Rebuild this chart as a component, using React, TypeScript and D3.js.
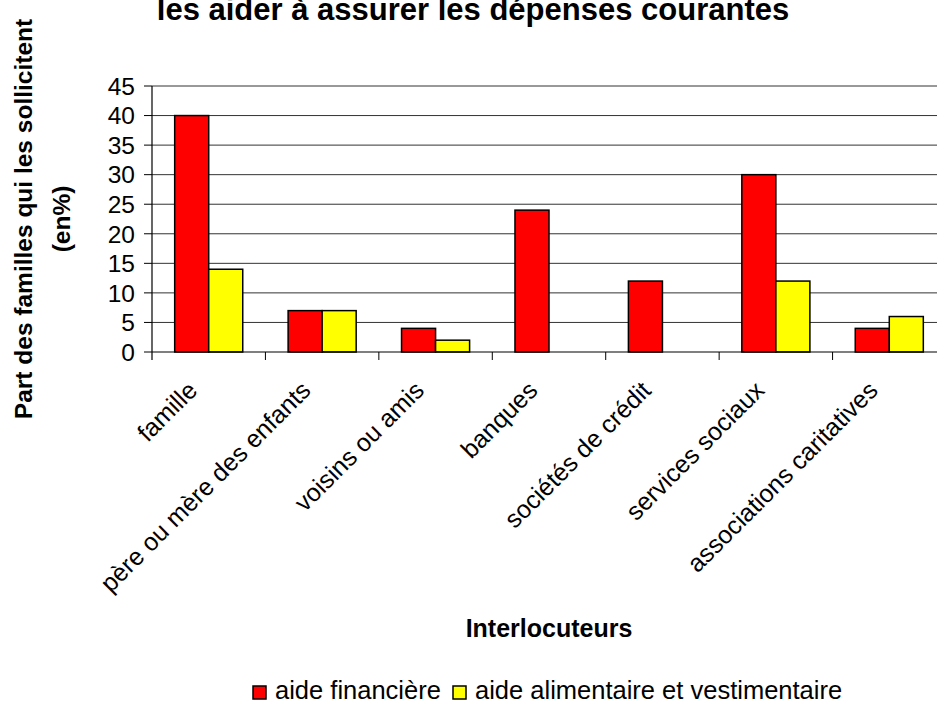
import React from "react";
import * as d3 from "d3";

const categories = [
  "famille",
  "père ou mère des enfants",
  "voisins ou amis",
  "banques",
  "sociétés de crédit",
  "services sociaux",
  "associations caritatives",
];
const aideFinanciere = [40, 7, 4, 24, 12, 30, 4];
const aideAlimentaire = [14, 7, 2, 0, 0, 12, 6];
const seriesNames = ["aide financière", "aide alimentaire et vestimentaire"];
const seriesColors = ["#ff0000", "#ffff00"];
const yTicks = [0, 5, 10, 15, 20, 25, 30, 35, 40, 45];

const width = 937;
const height = 704;
const plotLeft = 152;
const plotRight = 946;
const plotTop = 86;
const plotBottom = 352;
const font = "'Liberation Sans', Arial, sans-serif";

export default function App() {
  const x = d3.scaleBand<string>().domain(categories).range([plotLeft, plotRight]);
  const bw = x.bandwidth();
  const gap = bw * 0.2;
  const x1 = d3.scaleBand<number>().domain([0, 1]).range([gap, bw - gap]);
  const y = d3.scaleLinear().domain([0, 45]).range([plotBottom, plotTop]);

  const series = [aideFinanciere, aideAlimentaire];

  return (
    <svg
      width={width}
      height={height}
      style={{ position: "absolute", left: 0, top: 0, background: "#fff" }}
      fontFamily={font}
    >
      {/* title (its first line lies above the picture) */}
      <text x={473} y={20} textAnchor="middle" fontSize={31} fontWeight="bold">
        les aider à assurer les dépenses courantes
      </text>

      {/* gridlines */}
      {yTicks.slice(1).map((t) => (
        <line key={t} x1={plotLeft} x2={width} y1={y(t)} y2={y(t)} stroke="#333" strokeWidth={1} />
      ))}

      {/* bars */}
      {categories.map((c, i) => (
        <g key={c} transform={`translate(${x(c)},0)`}>
          {series.map((s, j) =>
            s[i] > 0 ? (
              <rect
                key={j}
                x={x1(j)}
                y={y(s[i])}
                width={x1.bandwidth()}
                height={y(0) - y(s[i])}
                fill={seriesColors[j]}
                stroke="#000"
                strokeWidth={1.5}
              />
            ) : null
          )}
        </g>
      ))}

      {/* y axis */}
      <line x1={plotLeft} x2={plotLeft} y1={plotTop} y2={plotBottom + 8} stroke="#000" strokeWidth={1.2} />
      {yTicks.map((t) => (
        <g key={t}>
          <line x1={plotLeft - 8} x2={plotLeft} y1={y(t)} y2={y(t)} stroke="#000" />
          <text x={plotLeft - 17} y={y(t)} dy="0.36em" textAnchor="end" fontSize={24.5}>
            {t}
          </text>
        </g>
      ))}

      {/* x axis */}
      <line x1={plotLeft} x2={width} y1={plotBottom} y2={plotBottom} stroke="#000" strokeWidth={1.2} />
      {categories.map((c) => (
        <line key={c} x1={x(c)! + bw} x2={x(c)! + bw} y1={plotBottom} y2={plotBottom + 8} stroke="#000" />
      ))}
      {categories.map((c) => {
        const cx = x(c)! + bw / 2 - 10;
        const cy = plotBottom + 40;
        return (
          <text
            key={c}
            transform={`translate(${cx},${cy}) rotate(-45)`}
            textAnchor="end"
            fontSize={25}
          >
            {c}
          </text>
        );
      })}

      {/* axis titles */}
      <text x={549} y={637} textAnchor="middle" fontSize={25} fontWeight="bold">
        Interlocuteurs
      </text>
      <text transform={`translate(32,${(plotTop + plotBottom) / 2}) rotate(-90)`} textAnchor="middle" fontSize={24.5} fontWeight="bold">
        Part des familles qui les sollicitent
      </text>
      <text transform={`translate(70,${(plotTop + plotBottom) / 2}) rotate(-90)`} textAnchor="middle" fontSize={24.5} fontWeight="bold">
        (en%)
      </text>

      {/* legend */}
      {seriesNames.map((name, j) => {
        const lx = j === 0 ? 253 : 453;
        return (
          <g key={name}>
            <rect x={lx} y={686} width={13} height={13} fill={seriesColors[j]} stroke="#000" strokeWidth={1.5} />
            <text x={lx + 22} y={699} fontSize={25.5}>
              {name}
            </text>
          </g>
        );
      })}
    </svg>
  );
}
